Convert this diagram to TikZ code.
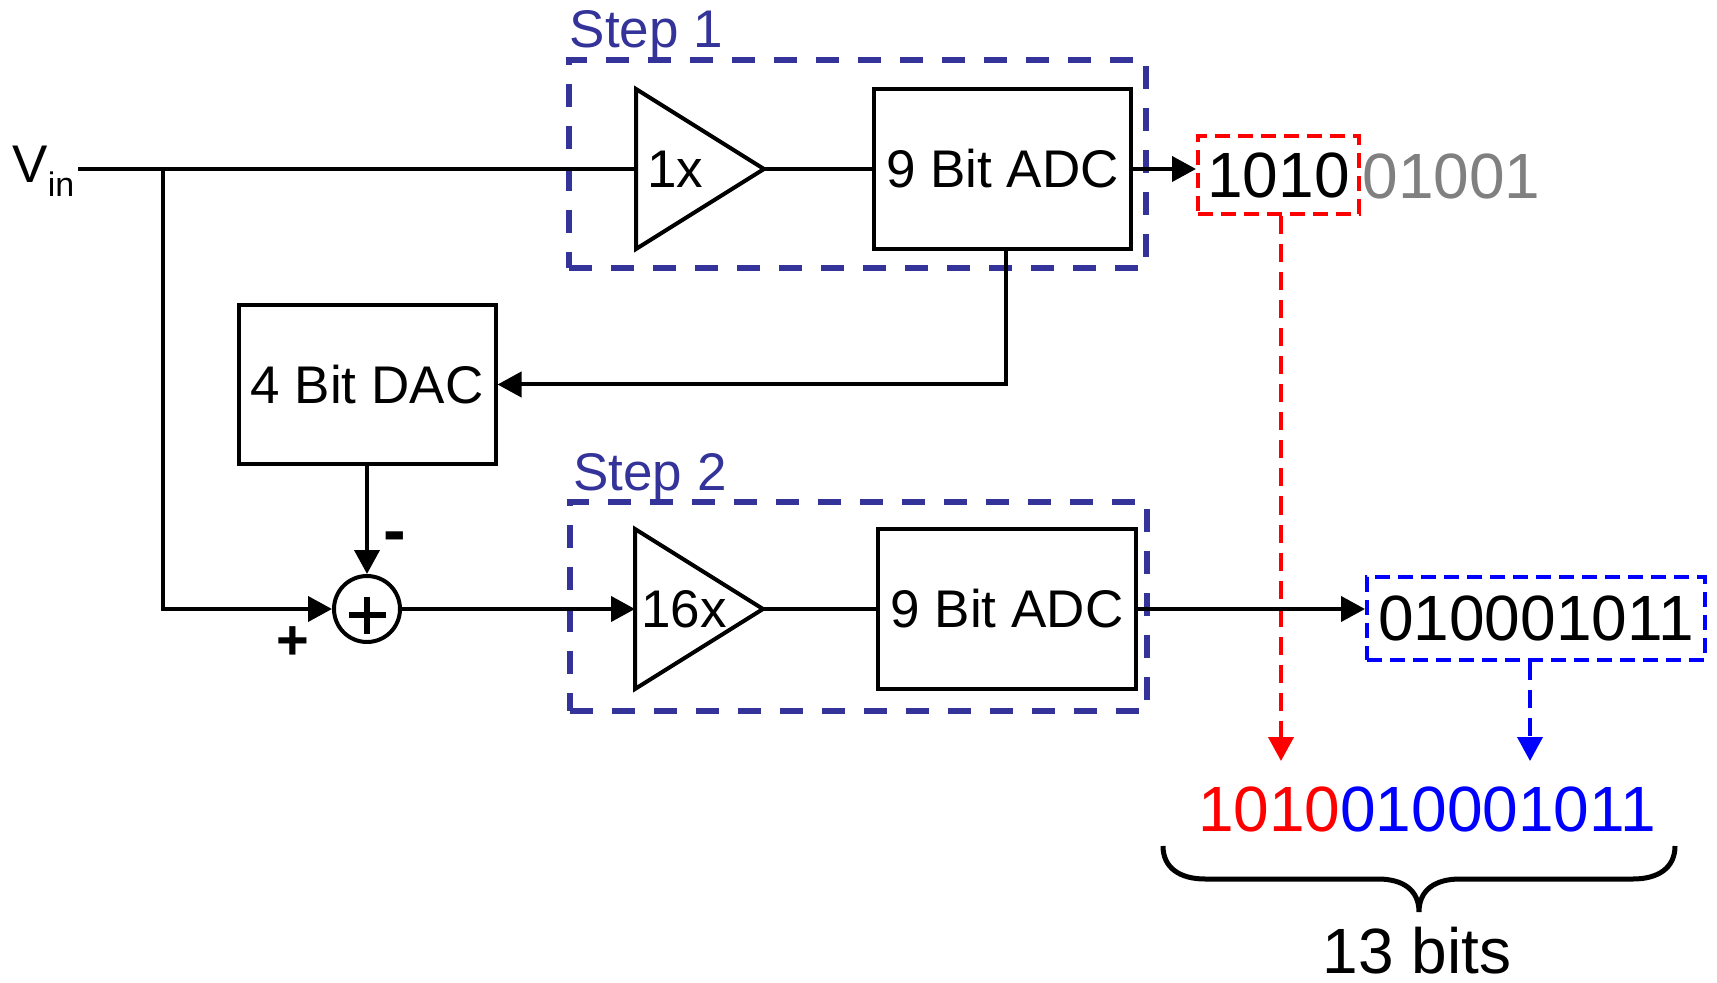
\documentclass[tikz,border=0pt]{standalone}
\usepackage{fontspec}
\setmainfont{Liberation Sans}
\usetikzlibrary{arrows.meta,calc}
\definecolor{stepc}{RGB}{51,51,153}
\definecolor{greyc}{RGB}{128,128,128}
\begin{document}
\begin{tikzpicture}[x=0.5pt,y=-0.5pt,
  wire/.style={line width=2pt},
  tip/.style={-{Triangle[length=12pt,width=12.5pt]}},
  arr/.style={wire,tip},
  blockbox/.style={draw,line width=2pt,rectangle,inner sep=0pt,font=\fontsize{26.5}{30}\selectfont},
  stepbox/.style={draw=stepc,line width=3pt,dash pattern=on 11.5pt off 9.5pt,rectangle,inner sep=0pt},
  steplabel/.style={text=stepc,anchor=base west,inner sep=0pt,font=\fontsize{26.5}{30}\selectfont},
  bits/.style={font=\fontsize{32}{36}\selectfont,inner sep=0pt},
  gainlabel/.style={anchor=west,inner sep=0pt,font=\fontsize{26.5}{30}\selectfont},
  reddash/.style={draw=red,line width=2pt,dash pattern=on 7.5pt off 4pt},
  bluedash/.style={draw=blue,line width=2pt,dash pattern=on 7.5pt off 4pt},
]
\useasboundingbox (0,0) rectangle (1717,983);

% step boxes
\node[stepbox,minimum width=288.5pt,minimum height=104pt] (s1) at (857.5,164) {};
\node[stepbox,minimum width=288.5pt,minimum height=104.5pt] (s2) at (858.5,606.5) {};
\node[steplabel] (s1l) at (569.5,48) {Step 1};
\node[steplabel] (s2l) at (573,490) {Step 2};

% blocks
\node[blockbox,minimum width=128.5pt,minimum height=80pt] (adc1) at (1002.5,169) {9 Bit ADC};
\node[blockbox,minimum width=129pt,minimum height=80pt] (adc2) at (1007,609) {9 Bit ADC};
\node[blockbox,minimum width=128.5pt,minimum height=79.5pt] (dac) at (367,384.5) {4 Bit DAC};
\node[circle,draw,line width=2pt,minimum size=33pt,inner sep=0pt] (sum) at (367,609) {};
\draw[line width=2.7pt] ($(sum.center)+(-18.5,6)$) -- ($(sum.center)+(18.5,6)$);
\draw[line width=2.7pt] ($(sum.center)+(0,-12.5)$) -- ($(sum.center)+(0,24.5)$);

% amplifiers
\coordinate (t1in) at (636,169);
\coordinate (t1out) at (764,169);
\draw[wire,line join=miter] (636,89) -- (t1out) -- (636,249) -- cycle;
\node[gainlabel] (g1) at (647,169) {1x};
\coordinate (t2in) at (635,609);
\coordinate (t2out) at (763,609);
\draw[wire,line join=miter] (635,529) -- (t2out) -- (635,689) -- cycle;
\node[gainlabel] (g2) at (641,609) {16x};

% input
\node[anchor=base west,inner sep=0pt,font=\fontsize{26.5}{30}\selectfont] (vin) at (12,183) {V\raisebox{-7pt}{\fontsize{17}{20}\selectfont in}};
\coordinate (vinA) at (78,169);
\coordinate (br) at (163,169);
\draw[wire] (vinA) -- (t1in);
\draw[arr] (br) |- (sum.west);
\draw[wire] (t1out) -- (adc1.west);
\draw[arr] ([xshift=1.75pt]adc1.south) |- (dac.east);
\draw[arr] (dac.south) -- (sum.north);
\draw[arr] (sum.east) -- (t2in);
\draw[wire] (t2out) -- (adc2.west);

% sign labels
\node[anchor=base,inner sep=0pt,font=\bfseries\fontsize{34}{36}\selectfont] (minus) at (395,553) {-};
\node[anchor=base,inner sep=0pt,font=\bfseries\fontsize{28}{30}\selectfont] (plus) at (293,659) {+};

% outputs
\node[bits,reddash,minimum width=80.5pt,minimum height=39pt] (rbox) at (1278.5,175.5) {1010};
\node[bits,text=greyc,anchor=base west] (grey) at (1362,198.5) {01001};
\draw[arr] (adc1.east) -- (adc1.east -| rbox.west);
\coordinate (rtip) at (1281,761);
\draw[red,line width=2pt,dash pattern=on 9pt off 5pt,tip] (rbox.south -| rtip) -- (rtip);

\node[bits,bluedash,minimum width=169pt,minimum height=41.5pt] (bbox) at (1536,618.5) {010001011};
\draw[arr] (adc2.east) -- (adc2.east -| bbox.west);
\coordinate (btip) at (1530,761);
\draw[blue,line width=2pt,dash pattern=on 9pt off 5pt,tip] (bbox.south -| btip) -- (btip);

% result
\node[bits,anchor=base] (res) at (1427,831) {\textcolor{red}{1010}\textcolor{blue}{010001011}};
\coordinate (brtip) at (1419,912);
\draw[line width=2.5pt] (1163,846) .. controls (1163,868) and (1180,879) .. (1205,879) -- (1378,879) .. controls (1403,879) and (1419,890) .. (brtip) .. controls (1419,890) and (1435,879) .. (1460,879) -- (1633,879) .. controls (1658,879) and (1675,868) .. (1675,846);
\node[bits,anchor=base] (lbl) at (1417,973) {13 bits};
\end{tikzpicture}
\end{document}
